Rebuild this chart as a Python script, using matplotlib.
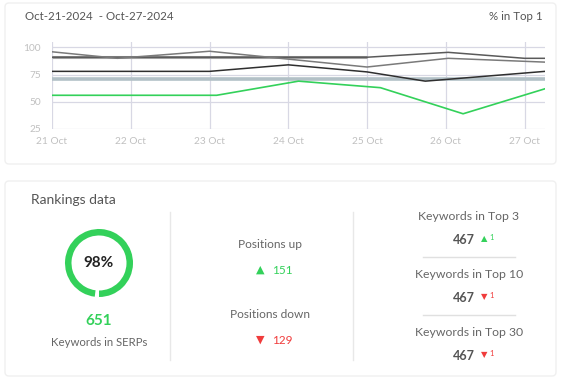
import matplotlib
matplotlib.use("Agg")
import matplotlib.pyplot as plt
from matplotlib.patches import FancyBboxPatch, Wedge

plt.rcParams['font.family'] = ['Lato', 'DejaVu Sans']

# ---------------- data ----------------
dates = ['21 Oct', '22 Oct', '23 Oct', '24 Oct', '25 Oct', '26 Oct', '27 Oct']
y_ticks = [25, 50, 75, 100]

# series positions are in "day" units (0 = 21 Oct)
green_x = [0, 1.04, 2.09, 3.13, 4.17, 5.22, 6.26]
green_y = [56, 56, 56, 69, 63, 39, 62]

dark_x = [0, 1, 2, 3, 4, 4.74, 6.26]
dark_y = [78, 78, 78, 84, 77.5, 69, 78]

mid_x = [0, 0.83, 2, 4, 5.03, 6.26]
mid_y = [96, 90, 96.5, 82, 90, 86.5]

dgray_x = [0, 4, 5.03, 6.0, 6.26]
dgray_y = [91, 91, 95.5, 90, 90]

thick_x = [0, 4]
thick_y = [91, 91]

blue_x = [0, 6.26]
blue_y = [71, 71]

date_range = 'Oct-21-2024  - Oct-27-2024'
metric_label = '% in Top 1'

pct_in_serps = 98
keywords_in_serps = 651
positions_up = 151
positions_down = 129
top_labels = ['Keywords in Top 3', 'Keywords in Top 10', 'Keywords in Top 30']
top_values = [467, 467, 467]
top_changes = [1, -1, -1]

GREEN = '#33d15a'
RED = '#f03c3c'
TXT = '#666666'

fig = plt.figure(figsize=(5.64, 3.78), dpi=100)
fig.patch.set_facecolor('white')

# background / layout axes in pixel coordinates
ax0 = fig.add_axes([0, 0, 1, 1])
ax0.set_xlim(0, 564)
ax0.set_ylim(378, 0)
ax0.axis('off')

for (x0, y0, w, h) in [(5, 3, 551, 161), (5, 181, 551, 195)]:
    ax0.add_patch(FancyBboxPatch((x0, y0), w, h, boxstyle='round,pad=0,rounding_size=4',
                                 facecolor='white', edgecolor='#f0f0f0', linewidth=1.0))

ax0.text(25, 17, date_range, fontsize=8.3, color='#555555', ha='left', va='center')
ax0.text(543, 17, metric_label, fontsize=8.3, color='#555555', ha='right', va='center')

# ---------------- line chart ----------------
ax = fig.add_axes([52 / 564, 1 - 129 / 378, (545 - 52) / 564, (129 - 42) / 378])
ax.patch.set_alpha(0)
ax.set_xlim(0, 6.26)
ax.set_ylim(25, 105)
grid_c = '#d8d8e4'
for v in y_ticks:
    ax.axhline(v, color=grid_c, lw=0.9, zorder=1)
for i in range(len(dates)):
    ax.axvline(i, color=grid_c, lw=0.9, zorder=1)
for s in ax.spines.values():
    s.set_visible(False)
ax.set_xticks(range(len(dates)))
ax.set_xticklabels(dates)
ax.set_yticks(y_ticks)
ax.tick_params(length=0, labelsize=7.3, labelcolor='#c0c0c0', pad=6)
ax.tick_params(axis='y', pad=8)

ax.plot(blue_x, blue_y, color='#b2c0c6', lw=2.6, zorder=2, solid_capstyle='butt')
ax.plot(thick_x, thick_y, color='#a0a0a0', lw=2.2, zorder=2, solid_capstyle='butt')
ax.plot(dgray_x, dgray_y, color='#5a5a5a', lw=1.1, zorder=3)
ax.plot(mid_x, mid_y, color='#7a7a7a', lw=1.1, zorder=3)
ax.plot(dark_x, dark_y, color='#2f2f2f', lw=1.1, zorder=3)
ax.plot(green_x, green_y, color=GREEN, lw=1.2, zorder=4)

# ---------------- rankings data ----------------
ax0.text(31, 200, 'Rankings data', fontsize=10, color='#555555', ha='left', va='center')

cx, cy, r = 99, 263, 34
gap = 360 * (100 - pct_in_serps) / 100
ax0.add_patch(Wedge((cx, cy), r, 90 + gap, 450, width=6.5, facecolor=GREEN, edgecolor='none'))
ax0.text(cx, cy, f'{pct_in_serps}%', fontsize=11, fontweight='bold', color='#222222',
         ha='center', va='center')
ax0.text(cx, 321, f'{keywords_in_serps}', fontsize=11, fontweight='bold', color=GREEN,
         ha='center', va='center')
ax0.text(cx, 342, 'Keywords in SERPs', fontsize=8.2, color=TXT, ha='center', va='center')

for xs in (170, 353):
    ax0.plot([xs, xs], [212, 360], color='#e8e8e8', lw=1)

mx = 270
ax0.text(mx, 245, 'Positions up', fontsize=8.6, color=TXT, ha='center', va='center')
ax0.text(mx - 10, 270, '▲', fontsize=8, color=GREEN, ha='center', va='center',
         family=['DejaVu Sans'])
ax0.text(mx + 2, 270, f'{positions_up}', fontsize=8.5, color=GREEN, ha='left', va='center')
ax0.text(mx, 315, 'Positions down', fontsize=8.6, color=TXT, ha='center', va='center')
ax0.text(mx - 10, 340, '▼', fontsize=8, color=RED, ha='center', va='center',
         family=['DejaVu Sans'])
ax0.text(mx + 2, 340, f'{positions_down}', fontsize=8.5, color=RED, ha='left', va='center')

rx = 469
label_y = [217, 275, 333]
for i, (lab, val, ch) in enumerate(zip(top_labels, top_values, top_changes)):
    ly = label_y[i]
    ax0.text(rx, ly, lab, fontsize=8.8, color=TXT, ha='center', va='center')
    ax0.text(rx + 6, ly + 23, f'{val}', fontsize=9, color='#555555', ha='right',
             va='center', fontweight='bold')
    col = GREEN if ch > 0 else RED
    ax0.text(rx + 12, ly + 22, '▲' if ch > 0 else '▼', fontsize=6, color=col,
             ha='left', va='center', family=['DejaVu Sans'])
    ax0.text(rx + 20, ly + 20, f'{abs(ch)}', fontsize=5.5, color=col, ha='left', va='center')
    if i < 2:
        ax0.plot([423, 515], [ly + 40, ly + 40], color='#e0e0e0', lw=1)

fig.savefig('out.png', dpi=100, facecolor='white')
